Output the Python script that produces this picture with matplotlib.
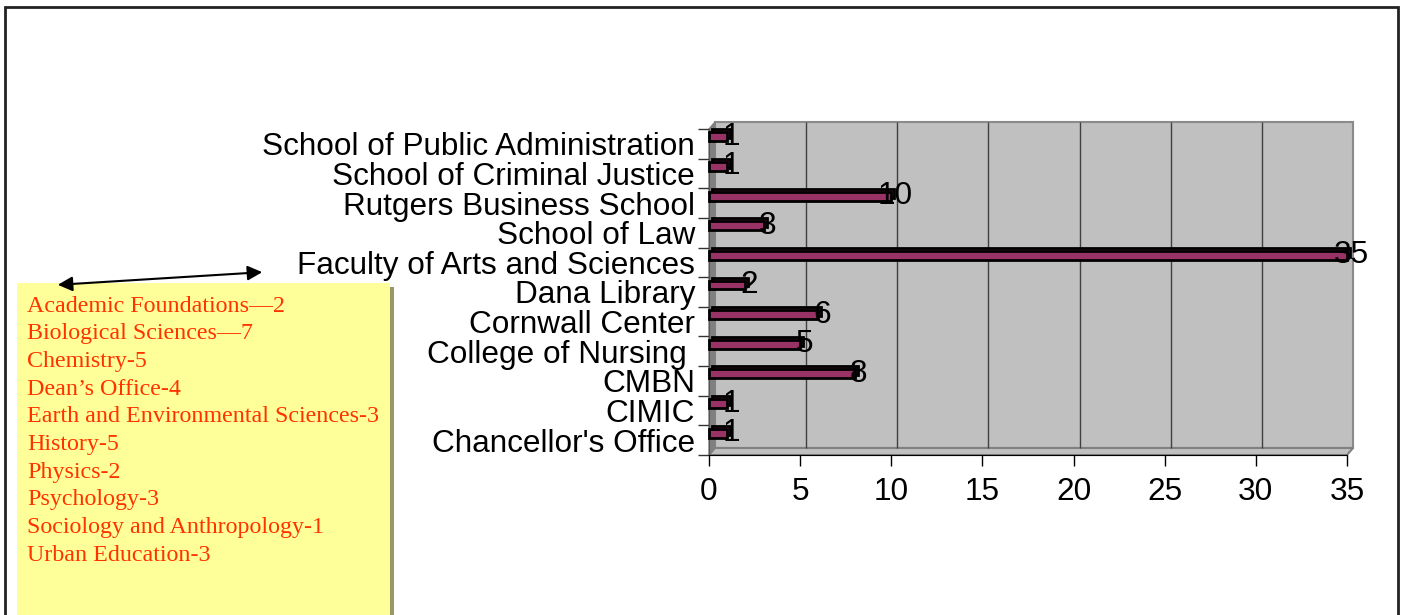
import matplotlib.pyplot as plt
from matplotlib.patches import Rectangle, Polygon, FancyArrowPatch
from matplotlib.transforms import ScaledTranslation

units = ["Chancellor's Office", "CIMIC", "CMBN", "College of Nursing ", "Cornwall Center",
         "Dana Library", "Faculty of Arts and Sciences", "School of Law",
         "Rutgers Business School", "School of Criminal Justice", "School of Public Administration"]
counts = [1, 1, 8, 5, 6, 2, 35, 3, 10, 1, 1]
x_ticks = [0, 5, 10, 15, 20, 25, 30, 35]

fas_depts = ["Academic Foundations\u20142", "Biological Sciences\u20147", "Chemistry-5",
             "Dean\u2019s Office-4", "Earth and Environmental Sciences-3", "History-5",
             "Physics-2", "Psychology-3", "Sociology and Anthropology-1", "Urban Education-3"]

W, H = 1404, 615
fig = plt.figure(figsize=(W / 100, H / 100), dpi=100)


def fx(px):
    return px / W


def fy(py):
    return 1 - py / H


# outer frame
fig.add_artist(Rectangle((fx(5), fy(640)), fx(1398) - fx(5), fy(7) - fy(640),
                         transform=fig.transFigure, fill=False, ec='#222222', lw=2))

# front plane of the chart
L, R, T, B = 709, 1347, 129, 455
ax = fig.add_axes([fx(L), fy(B), fx(R) - fx(L), fy(T) - fy(B)])
ax.set_xlim(0, 35)
ax.set_ylim(-0.5, len(units) - 0.5)
ax.patch.set_visible(False)

dx, dy = 6, 7
shift = ScaledTranslation(dx / 100, dy / 100, fig.dpi_scale_trans)
back = ax.transAxes + shift

# walls and floor
ax.add_patch(Rectangle((0, 0), 1, 1, transform=back, fc='#C0C0C0', ec='#8a8a8a', lw=1.5,
                       zorder=0, clip_on=False))
ax.add_patch(Polygon([(fx(L), fy(B)), (fx(L), fy(T)), (fx(L + dx), fy(T - dy)), (fx(L + dx), fy(B - dy))],
                     closed=True, transform=fig.transFigure, fc='#808080', ec='#808080', lw=1,
                     zorder=0.5, clip_on=False))
ax.add_patch(Polygon([(fx(L), fy(B)), (fx(R), fy(B)), (fx(R + dx), fy(B - dy)), (fx(L + dx), fy(B - dy))],
                     closed=True, transform=fig.transFigure, fc='#C0C0C0', ec='#808080', lw=1.5,
                     zorder=0.5, clip_on=False))

grid_tr = ax.get_xaxis_transform() + shift
ax.vlines(x_ticks[1:-1], 0, 1, transform=grid_tr, colors='#404040', lw=1, zorder=1, clip_on=False)

# bars (a shifted copy gives the 3d top face)
ypos = list(range(len(units)))
bar_tr = ax.transData + ScaledTranslation(0, 7 / 100, fig.dpi_scale_trans)
top_tr = ax.transData + ScaledTranslation(3 / 100, 10 / 100, fig.dpi_scale_trans)
lab_tr = ax.transData + ScaledTranslation(4 / 100, 7 / 100, fig.dpi_scale_trans)
ax.barh(ypos, counts, height=0.3, color='#993366', edgecolor='black', lw=2, transform=top_tr,
        zorder=2, clip_on=False)
ax.barh(ypos, counts, height=0.3, color='#993366', edgecolor='black', lw=2, transform=bar_tr,
        zorder=3, clip_on=False)

for y, v in zip(ypos, counts):
    ax.text(v, y, str(v), transform=lab_tr, ha='center', va='center',
            fontsize=22.7, family='Liberation Sans', color='black', zorder=4)

for s in ['top', 'right']:
    ax.spines[s].set_visible(False)
ax.spines['left'].set_color('#555555')
ax.spines['bottom'].set_color('black')

ax.set_xticks(x_ticks)
ax.set_xticklabels([str(t) for t in x_ticks], fontsize=22.7, family='Liberation Sans')
ax.tick_params(axis='x', length=8, width=1, direction='out', pad=8)
ax.set_yticks(ypos)
ax.set_yticklabels(units, fontsize=22.7, family='Liberation Sans')
ax.tick_params(axis='y', which='major', length=0, pad=10)
ax.set_yticks([y - 0.5 for y in ypos] + [len(units) - 0.5], minor=True)
ax.tick_params(axis='y', which='minor', length=8, width=1, color='#333333')

# yellow note box with shadow
fig.add_artist(Rectangle((fx(21), fy(640)), fx(394) - fx(21), fy(287) - fy(640),
                         transform=fig.transFigure, fc='#999966', ec='none'))
fig.add_artist(Rectangle((fx(17), fy(640)), fx(390) - fx(17), fy(283) - fy(640),
                         transform=fig.transFigure, fc='#FFFF99', ec='none'))
for i, d in enumerate(fas_depts):
    fig.text(fx(27), fy(306 + i * 27.7), d, ha='left', va='center', fontsize=17.3,
             family='Liberation Serif', color='#FF3300')

fig.add_artist(FancyArrowPatch((fx(55), fy(285)), (fx(265), fy(272)), transform=fig.transFigure,
                               arrowstyle='<|-|>', mutation_scale=22, color='black', lw=1.5))

fig.savefig('out.png', dpi=100)
